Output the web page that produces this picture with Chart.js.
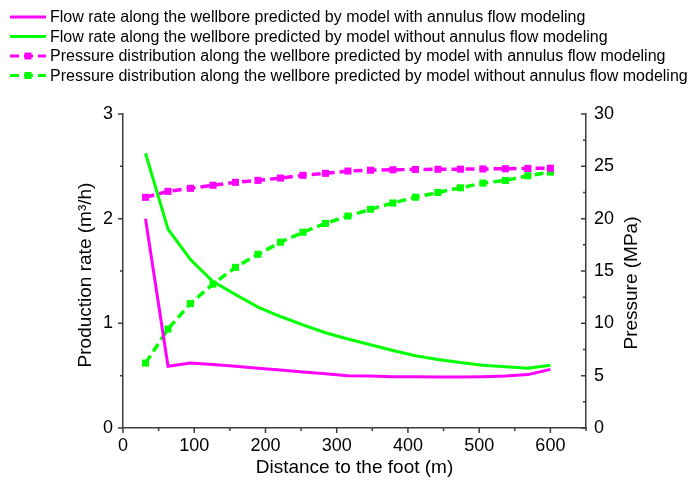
<!DOCTYPE html>
<html>
<head>
<meta charset="utf-8">
<script src="https://cdn.jsdelivr.net/npm/chart.js@4.4.0/dist/chart.umd.min.js"></script>
<style>
  html, body { margin: 0; padding: 0; background: #fff; }
</style>
</head>
<body>
<canvas id="myChart" width="689" height="485"></canvas>
<script>
// distance to the foot (m)
const distance = [31.6, 63.2, 94.7, 126.3, 157.9, 189.5, 221.1, 252.6, 284.2, 315.8,
  347.4, 378.9, 410.5, 442.1, 473.7, 505.3, 536.8, 568.4, 600];
// production rate (m3/h)
const flowWithAnnulus = [2.0, 0.59, 0.62, 0.606, 0.589, 0.571, 0.553, 0.535, 0.518, 0.5,
  0.497, 0.49, 0.49, 0.487, 0.487, 0.49, 0.497, 0.51, 0.56];
const flowWithoutAnnulus = [2.625, 1.9, 1.61, 1.4, 1.275, 1.155, 1.065, 0.985, 0.91, 0.85,
  0.795, 0.74, 0.69, 0.655, 0.625, 0.6, 0.585, 0.57, 0.6];
// pressure (MPa)
const pressureWithAnnulus = [22.04, 22.61, 22.9, 23.19, 23.47, 23.66, 23.88, 24.14, 24.33, 24.55,
  24.63, 24.67, 24.7, 24.72, 24.73, 24.75, 24.77, 24.8, 24.82];
const pressureWithoutAnnulus = [6.2, 9.45, 11.9, 13.75, 15.35, 16.6, 17.75, 18.7, 19.55, 20.25,
  20.9, 21.5, 22.05, 22.5, 22.95, 23.4, 23.65, 24.1, 24.45];

const seriesLabels = [
  "Flow rate along the wellbore predicted by model with annulus flow modeling",
  "Flow rate along the wellbore predicted by model without annulus flow modeling",
  "Pressure distribution along the wellbore predicted by model with annulus flow modeling",
  "Pressure distribution along the wellbore predicted by model without annulus flow modeling"
];
const xTicks = [0, 100, 200, 300, 400, 500, 600];
const flowTicks = [0, 1, 2, 3];
const pressureTicks = [0, 5, 10, 15, 20, 25, 30];

const magenta = "#ff00ff";
const green = "#00ff00";
const axisColor = "#3c3c3c";
const fontFamily = "'Liberation Sans', Arial, sans-serif";

function toPoints(ys) {
  return distance.map((d, i) => ({ x: d, y: ys[i] }));
}

// ticks, axis titles and legend drawn by hand
const extras = {
  id: "extras",
  afterDraw(chart) {
    const ctx = chart.ctx;
    const area = chart.chartArea;
    const sx = chart.scales.x;
    const sy = chart.scales.y;
    const sp = chart.scales.y1;
    ctx.save();
    ctx.strokeStyle = axisColor;
    ctx.lineWidth = 1.5;
    ctx.beginPath();
    for (let v = 0; v <= 650; v += 50) {
      const px = sx.getPixelForValue(v);
      const len = v % 100 === 0 ? 5 : 3;
      ctx.moveTo(px, area.bottom);
      ctx.lineTo(px, area.bottom + len);
    }
    for (let v = 0; v <= 3; v += 0.5) {
      const py = sy.getPixelForValue(v);
      const len = Number.isInteger(v) ? 5 : 3;
      ctx.moveTo(area.left, py);
      ctx.lineTo(area.left - len, py);
    }
    for (let v = 0; v <= 30; v += 2.5) {
      const py = sp.getPixelForValue(v);
      const len = v % 5 === 0 ? 5 : 3;
      ctx.moveTo(area.right, py);
      ctx.lineTo(area.right - len, py);
    }
    ctx.stroke();

    // axis titles
    ctx.fillStyle = "#000";
    ctx.font = "19px " + fontFamily;
    ctx.textAlign = "center";
    ctx.textBaseline = "middle";
    ctx.fillText("Distance to the foot (m)", (area.left + area.right) / 2, 468);
    const midY = (area.top + area.bottom) / 2;
    ctx.save();
    ctx.translate(86, midY + 4);
    ctx.rotate(-Math.PI / 2);
    ctx.fillText("Production rate (m\u00b3/h)", 0, 0);
    ctx.restore();
    ctx.save();
    ctx.translate(632, midY + 12);
    ctx.rotate(-Math.PI / 2);
    ctx.fillText("Pressure (MPa)", 0, 0);
    ctx.restore();

    // legend
    ctx.font = "16px " + fontFamily;
    ctx.textAlign = "left";
    chart.data.datasets.forEach((ds, i) => {
      const y = 17 + i * 19.5;
      ctx.strokeStyle = ds.borderColor;
      ctx.lineWidth = 3;
      ctx.setLineDash(ds.borderDash || []);
      ctx.beginPath();
      ctx.moveTo(10, y);
      ctx.lineTo(46, y);
      ctx.stroke();
      ctx.setLineDash([]);
      if (ds.pointRadius > 0) {
        ctx.fillStyle = ds.borderColor;
        ctx.fillRect(28 - 3.5, y - 3.5, 7, 7);
      }
      ctx.fillStyle = "#000";
      ctx.fillText(ds.label, 50, y + 1);
    });
    ctx.restore();
  }
};

const ctx = document.getElementById("myChart").getContext("2d");
new Chart(ctx, {
  type: "line",
  data: {
    datasets: [
      {
        label: seriesLabels[0],
        data: toPoints(flowWithAnnulus),
        yAxisID: "y",
        borderColor: magenta,
        borderWidth: 3,
        pointRadius: 0
      },
      {
        label: seriesLabels[1],
        data: toPoints(flowWithoutAnnulus),
        yAxisID: "y",
        borderColor: green,
        borderWidth: 3,
        pointRadius: 0
      },
      {
        label: seriesLabels[2],
        data: toPoints(pressureWithAnnulus),
        yAxisID: "y1",
        borderColor: magenta,
        backgroundColor: magenta,
        borderWidth: 3.5,
        borderDash: [9, 5],
        pointStyle: "rect",
        pointRadius: 5,
        pointBorderWidth: 0
      },
      {
        label: seriesLabels[3],
        data: toPoints(pressureWithoutAnnulus),
        yAxisID: "y1",
        borderColor: green,
        backgroundColor: green,
        borderWidth: 3.5,
        borderDash: [9, 5],
        pointStyle: "rect",
        pointRadius: 5,
        pointBorderWidth: 0
      }
    ]
  },
  options: {
    responsive: false,
    animation: false,
    devicePixelRatio: 1,
    layout: { padding: { top: 114, left: 0, right: 0, bottom: 0 } },
    plugins: {
      legend: { display: false },
      tooltip: { enabled: false }
    },
    scales: {
      x: {
        type: "linear",
        min: 0,
        max: 650,
        afterBuildTicks: (scale) => { scale.ticks = xTicks.map((v) => ({ value: v })); },
        afterFit: (scale) => { scale.height = 57; },
        grid: { display: false, drawTicks: false },
        border: { display: true, color: axisColor, width: 1.5 },
        ticks: { padding: 7, color: "#000", font: { size: 18, family: fontFamily } }
      },
      y: {
        position: "left",
        min: 0,
        max: 3,
        afterBuildTicks: (scale) => { scale.ticks = flowTicks.map((v) => ({ value: v })); },
        afterFit: (scale) => { scale.width = 123; },
        grid: { display: false, drawTicks: false },
        border: { display: true, color: axisColor, width: 1.5 },
        ticks: { padding: 10, color: "#000", font: { size: 18, family: fontFamily } }
      },
      y1: {
        position: "right",
        min: 0,
        max: 30,
        afterBuildTicks: (scale) => { scale.ticks = pressureTicks.map((v) => ({ value: v })); },
        afterFit: (scale) => { scale.width = 103; },
        grid: { display: false, drawTicks: false },
        border: { display: true, color: axisColor, width: 1.5 },
        ticks: { padding: 8, color: "#000", font: { size: 18, family: fontFamily } }
      }
    }
  },
  plugins: [extras]
});
</script>
</body>
</html>
